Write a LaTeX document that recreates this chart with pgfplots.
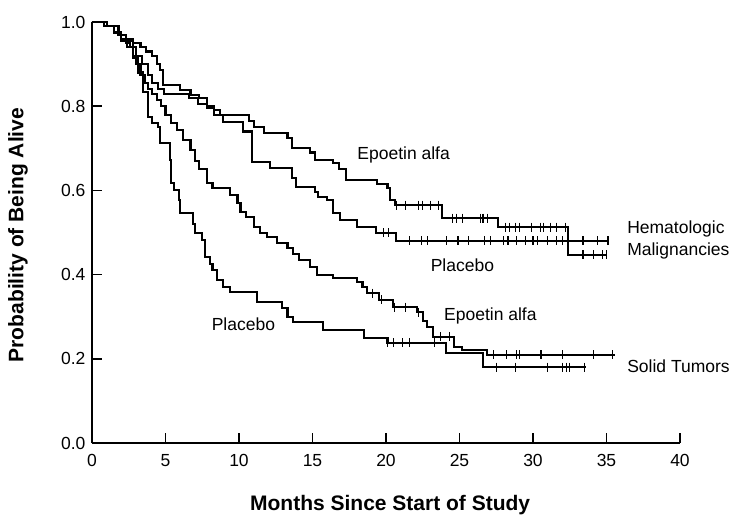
\documentclass[border=0pt]{standalone}
\usepackage{fontspec}
\setmainfont{Liberation Sans}
\usepackage{pgfplots}
\pgfplotsset{compat=1.18}
\begin{document}
\begin{tikzpicture}[x=1pt,y=1pt]
\useasboundingbox (-92,-74) rectangle (641,443);
\begin{axis}[
  at={(0,0)}, anchor=origin,
  scale only axis, width=588pt, height=421pt,
  xmin=0, xmax=40, ymin=0, ymax=1,
  axis x line*=bottom, axis y line*=left,
  axis line style={line width=1.6pt},
  xtick={0,5,...,40}, ytick={0,0.2,...,1.0},
  tick align=inside, major tick length=10pt,
  tick style={line width=1.4pt, black},
  yticklabel style={/pgf/number format/fixed, /pgf/number format/fixed zerofill, /pgf/number format/precision=1},
  /pgf/number format/assume math mode=true,
  tick label style={font=\fontsize{17.5}{20}\selectfont},
  xticklabel style={yshift=-8pt},
  yticklabel style={xshift=-3pt},
  xlabel={Months Since Start of Study},
  ylabel={Probability of Being Alive},
  label style={font=\fontsize{21}{24}\selectfont\bfseries},
  xlabel style={at={(axis description cs:0.507,-0.147)}, anchor=center},
  ylabel style={at={(axis description cs:-0.126,0.494)}, anchor=center, rotate=0},
  clip=false,
  every axis plot/.append style={line width=2.1pt, black},
]
% Hematologic malignancies, Epoetin alfa
\addplot[const plot] coordinates {
(0,1) (0.8,0.99) (1.5,0.975) (2.0,0.96) (2.8,0.95) (3.3,0.94) (3.7,0.93) (4.1,0.92) (4.4,0.90) (4.6,0.886) (4.8,0.85)
(6.0,0.838) (6.7,0.827) (7.3,0.82) (7.8,0.80) (8.3,0.79) (8.7,0.78) (10.7,0.765) (11.0,0.75) (11.7,0.736)
(13.3,0.724) (13.6,0.70) (14.8,0.69) (15.2,0.672) (16.4,0.665) (16.8,0.65) (17.3,0.625) (19.4,0.615) (20.1,0.606)
(20.3,0.577) (20.6,0.565) (23.8,0.534) (27.6,0.513) (32.4,0.447) (35.0,0.447)};
% Hematologic malignancies, Placebo
\addplot[const plot] coordinates {
(0,1) (1.0,0.99) (1.8,0.97) (2.3,0.955) (2.8,0.94) (3.0,0.92) (3.4,0.90) (3.8,0.875) (4.1,0.855) (4.5,0.84) (4.9,0.83)
(6.6,0.82) (7.2,0.805) (7.8,0.795) (8.3,0.78) (8.9,0.762) (10.3,0.74) (10.9,0.667) (12.1,0.653) (13.6,0.63)
(13.9,0.608) (15.2,0.596) (15.4,0.584) (16.0,0.577) (16.4,0.546) (16.9,0.53) (18.0,0.513) (19.3,0.499)
(20.7,0.48) (35.1,0.48)};
% Solid tumors, Epoetin alfa
\addplot[const plot] coordinates {
(0,1) (1.0,0.99) (1.5,0.975) (2.0,0.96) (2.3,0.95) (2.6,0.94) (2.8,0.92) (3.0,0.90) (3.3,0.874) (3.6,0.855)
(3.8,0.84) (4.1,0.83) (4.4,0.815) (4.7,0.80) (5.0,0.78) (5.4,0.76) (5.8,0.743) (6.2,0.72) (6.7,0.696) (7.0,0.67)
(7.3,0.65) (7.8,0.618) (8.2,0.606) (9.4,0.59) (9.9,0.57) (10.1,0.549) (10.5,0.537) (11.0,0.513) (11.4,0.499)
(11.9,0.489) (12.6,0.475) (13.3,0.463) (13.7,0.45) (14.1,0.435) (14.8,0.418) (15.3,0.40) (16.4,0.392) (18.0,0.383)
(18.4,0.37) (18.7,0.356) (19.5,0.34) (20.5,0.323) (22.1,0.311) (22.5,0.29) (22.8,0.276) (23.2,0.252) (24.6,0.228)
(25.2,0.22) (26.9,0.21) (35.6,0.21)};
% Solid tumors, Placebo
\addplot[const plot] coordinates {
(0,1) (1.0,0.99) (1.5,0.975) (2.0,0.955) (2.4,0.94) (2.8,0.915) (3.1,0.88) (3.5,0.834) (3.8,0.774) (4.1,0.76)
(4.5,0.75) (4.6,0.712) (5.3,0.672) (5.4,0.618) (5.6,0.60) (5.9,0.577) (6.0,0.546) (6.9,0.52) (7.0,0.499)
(7.5,0.482) (7.7,0.442) (8.0,0.425) (8.2,0.41) (8.5,0.387) (8.9,0.37) (9.4,0.359) (11.2,0.335) (12.9,0.32)
(13.3,0.30) (13.7,0.287) (15.7,0.268) (18.5,0.25) (20.1,0.238) (24.1,0.214) (26.6,0.18) (33.6,0.18)};
% censor marks
\addplot[only marks, mark=|, mark size=4.5pt, mark options={line width=1.1pt}] coordinates {
(20.7,0.565) (21.3,0.565) (22.2,0.565) (22.5,0.565) (23.0,0.565) (23.6,0.565)
(24.5,0.534) (24.8,0.534) (25.2,0.534) (26.4,0.534) (26.6,0.534) (26.9,0.534)
(28.1,0.513) (28.4,0.513) (28.8,0.513) (29.1,0.513) (29.9,0.513) (30.5,0.513) (30.7,0.513) (31.2,0.513) (31.6,0.513) (32.2,0.513)
(33.4,0.447) (34.1,0.447) (34.7,0.447) (35.0,0.447)};
\addplot[only marks, mark=|, mark size=4.5pt, mark options={line width=1.1pt}] coordinates {
(19.8,0.499) (20.2,0.499) (21.6,0.48) (22.4,0.48) (22.8,0.48) (24.1,0.48) (24.9,0.48) (25.6,0.48) (26.7,0.48)
(27.1,0.48) (28.0,0.48) (28.3,0.48) (28.9,0.48) (29.5,0.48) (30.0,0.48) (30.3,0.48) (31.0,0.48) (31.6,0.48)
(32.0,0.48) (33.4,0.48) (34.4,0.48) (35.1,0.48)};
\addplot[only marks, mark=|, mark size=4.5pt, mark options={line width=1.1pt}] coordinates {
(19.1,0.356) (19.7,0.34) (20.6,0.323) (21.3,0.323) (22.2,0.311) (23.7,0.252) (24.3,0.252)
(27.3,0.21) (28.2,0.21) (28.9,0.21) (29.1,0.21) (30.5,0.21) (30.6,0.21) (32.0,0.21) (34.1,0.21) (35.4,0.21)};
\addplot[only marks, mark=|, mark size=4.5pt, mark options={line width=1.1pt}] coordinates {
(20.1,0.238) (20.5,0.238) (21.1,0.238) (21.6,0.238) (23.3,0.238)
(27.5,0.18) (28.8,0.18) (31.0,0.18) (32.0,0.18) (32.3,0.18) (32.5,0.18) (33.5,0.18)};
% annotations
\begin{scope}[every node/.style={font=\fontsize{17.5}{21}\selectfont, inner sep=0pt}]
\node at (axis cs:21.2,0.684) {Epoetin alfa};
\node at (axis cs:25.2,0.423) {Placebo};
\node at (axis cs:27.1,0.302) {Epoetin alfa};
\node at (axis cs:10.3,0.283) {Placebo};
\node[anchor=west, align=left] at (axis cs:36.4,0.482) {Hematologic\\[1pt]Malignancies};
\node[anchor=west] at (axis cs:36.4,0.183) {Solid Tumors};
\end{scope}
\end{axis}
\end{tikzpicture}
\end{document}
